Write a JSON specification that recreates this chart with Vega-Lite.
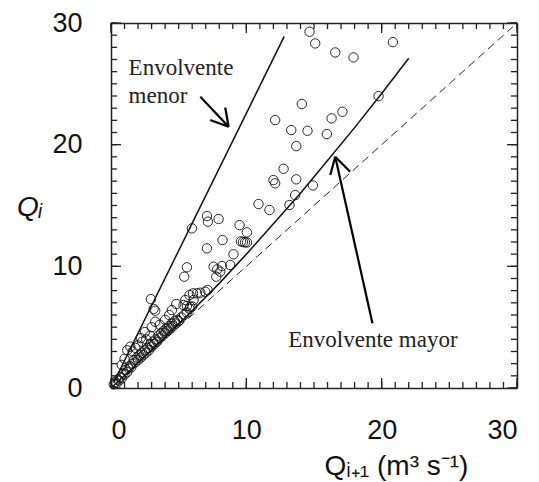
{
  "$schema": "https://vega.github.io/schema/vega-lite/v6.json",
  "width": 406,
  "height": 365,
  "autosize": {"type": "none"},
  "padding": {"left": 111, "top": 23, "right": 22, "bottom": 94},
  "background": "white",
  "config": {
    "view": {"stroke": null},
    "axis": {"grid": false}
  },
  "datasets": {
    "tkmin": [
      {"v": 0}, {"v": 1}, {"v": 2}, {"v": 3}, {"v": 4}, {"v": 5}, {"v": 6}, {"v": 7}, {"v": 8}, {"v": 9},
      {"v": 10}, {"v": 11}, {"v": 12}, {"v": 13}, {"v": 14}, {"v": 15}, {"v": 16}, {"v": 17}, {"v": 18}, {"v": 19},
      {"v": 20}, {"v": 21}, {"v": 22}, {"v": 23}, {"v": 24}, {"v": 25}, {"v": 26}, {"v": 27}, {"v": 28}, {"v": 29}, {"v": 30}
    ],
    "tkmaj": [{"v": 0}, {"v": 10}, {"v": 20}, {"v": 30}],
    "pts": [
      {"x": 14.67, "y": 29.28}, {"x": 15.09, "y": 28.32}, {"x": 16.57, "y": 27.58}, {"x": 17.92, "y": 27.17},
      {"x": 20.83, "y": 28.43}, {"x": 19.77, "y": 23.99}, {"x": 14.1, "y": 23.34}, {"x": 12.13, "y": 22.02},
      {"x": 17.1, "y": 22.7}, {"x": 16.3, "y": 22.16}, {"x": 13.32, "y": 21.2}, {"x": 14.52, "y": 21.14},
      {"x": 15.95, "y": 20.87}, {"x": 13.69, "y": 19.88}, {"x": 12.75, "y": 18.02}, {"x": 12.0, "y": 17.09},
      {"x": 12.13, "y": 16.82}, {"x": 13.69, "y": 17.15}, {"x": 14.92, "y": 16.65}, {"x": 13.61, "y": 15.86},
      {"x": 13.19, "y": 15.04}, {"x": 10.9, "y": 15.12}, {"x": 11.71, "y": 14.63}, {"x": 7.09, "y": 14.13},
      {"x": 7.16, "y": 13.67}, {"x": 7.95, "y": 13.89}, {"x": 5.98, "y": 13.12}, {"x": 9.5, "y": 13.39},
      {"x": 10.04, "y": 12.79}, {"x": 8.24, "y": 12.16}, {"x": 9.6, "y": 12.05}, {"x": 9.75, "y": 12.0},
      {"x": 9.9, "y": 11.97}, {"x": 10.05, "y": 11.97}, {"x": 7.09, "y": 11.48}, {"x": 9.05, "y": 10.99},
      {"x": 8.81, "y": 10.11}, {"x": 7.58, "y": 9.97}, {"x": 7.85, "y": 9.75}, {"x": 8.2, "y": 10.02},
      {"x": 8.07, "y": 9.56}, {"x": 7.78, "y": 9.15}, {"x": 5.61, "y": 9.92}, {"x": 5.41, "y": 9.15},
      {"x": 7.14, "y": 8.05}, {"x": 6.96, "y": 7.91}, {"x": 6.6, "y": 7.83}, {"x": 6.35, "y": 7.78},
      {"x": 6.06, "y": 7.78}, {"x": 5.8, "y": 7.64}, {"x": 2.95, "y": 7.3}, {"x": 4.82, "y": 6.9},
      {"x": 5.49, "y": 7.23}, {"x": 5.36, "y": 6.82}, {"x": 5.61, "y": 6.74}, {"x": 5.86, "y": 6.68},
      {"x": 6.1, "y": 7.23}, {"x": 3.15, "y": 6.5}, {"x": 3.27, "y": 6.35},
      {"x": 1.43, "y": 3.4}, {"x": 1.2, "y": 3.1}, {"x": 1.6, "y": 3.0}, {"x": 1.0, "y": 2.4},
      {"x": 0.8, "y": 1.9}, {"x": 2.0, "y": 3.5}, {"x": 2.3, "y": 3.8}, {"x": 2.6, "y": 4.0},
      {"x": 2.9, "y": 4.3}, {"x": 3.27, "y": 5.45}, {"x": 3.0, "y": 5.0}, {"x": 3.6, "y": 5.2},
      {"x": 4.0, "y": 5.6}, {"x": 4.3, "y": 6.0}, {"x": 4.5, "y": 6.4}, {"x": 2.5, "y": 4.6},
      {"x": 2.2, "y": 4.1}, {"x": 1.8, "y": 3.3},
      {"x": 0.2, "y": 0.3}, {"x": 0.3, "y": 0.5}, {"x": 0.4, "y": 0.4}, {"x": 0.5, "y": 0.7},
      {"x": 0.6, "y": 0.6}, {"x": 0.7, "y": 0.9}, {"x": 0.8, "y": 0.8}, {"x": 0.9, "y": 1.2},
      {"x": 1.0, "y": 1.1}, {"x": 1.1, "y": 1.5}, {"x": 1.2, "y": 1.3}, {"x": 1.3, "y": 1.6},
      {"x": 1.4, "y": 1.8}, {"x": 1.5, "y": 1.7}, {"x": 1.6, "y": 2.0}, {"x": 1.7, "y": 2.3},
      {"x": 1.8, "y": 2.1}, {"x": 1.9, "y": 2.5}, {"x": 2.0, "y": 2.3}, {"x": 2.1, "y": 2.7},
      {"x": 2.2, "y": 2.5}, {"x": 2.3, "y": 2.9}, {"x": 2.4, "y": 2.7}, {"x": 2.5, "y": 3.1},
      {"x": 2.6, "y": 2.9}, {"x": 2.7, "y": 3.3}, {"x": 2.8, "y": 3.1}, {"x": 2.9, "y": 3.6},
      {"x": 3.0, "y": 3.4}, {"x": 3.1, "y": 3.8}, {"x": 3.2, "y": 3.6}, {"x": 3.3, "y": 4.0},
      {"x": 3.4, "y": 3.8}, {"x": 3.5, "y": 4.3}, {"x": 3.6, "y": 4.1}, {"x": 3.7, "y": 4.5},
      {"x": 3.8, "y": 4.3}, {"x": 3.9, "y": 4.7}, {"x": 4.0, "y": 4.5}, {"x": 4.1, "y": 4.9},
      {"x": 4.2, "y": 4.7}, {"x": 4.3, "y": 5.1}, {"x": 4.4, "y": 4.9}, {"x": 4.5, "y": 5.3},
      {"x": 4.6, "y": 5.1}, {"x": 4.7, "y": 5.5}, {"x": 4.8, "y": 5.3}, {"x": 4.9, "y": 5.6},
      {"x": 5.0, "y": 5.5}, {"x": 5.2, "y": 5.8}, {"x": 5.4, "y": 6.0}, {"x": 5.6, "y": 6.2},
      {"x": 5.8, "y": 6.5}, {"x": 6.0, "y": 6.7}
    ],
    "env": [
      {"s": "menor", "x": 0.2, "y": 0.45}, {"s": "menor", "x": 12.8, "y": 28.9},
      {"s": "mayor", "x": 0, "y": 0}, {"s": "mayor", "x": 2, "y": 2.05}, {"s": "mayor", "x": 4, "y": 4.15},
      {"s": "mayor", "x": 6, "y": 6.35}, {"s": "mayor", "x": 8, "y": 8.6}, {"s": "mayor", "x": 10, "y": 11.0},
      {"s": "mayor", "x": 12, "y": 13.5}, {"s": "mayor", "x": 14, "y": 16.0}, {"s": "mayor", "x": 16, "y": 18.7},
      {"s": "mayor", "x": 18, "y": 21.4}, {"s": "mayor", "x": 20, "y": 24.2}, {"s": "mayor", "x": 22, "y": 27.1}
    ],
    "diag": [{"x": 0, "y": 0}, {"x": 29.7, "y": 29.7}],
    "arrows": [
      {"x": 6.6, "y": 23.94, "x2": 8.69, "y2": 21.47},
      {"x": 7.33, "y": 22.02, "x2": 8.69, "y2": 21.47},
      {"x": 8.44, "y": 23.06, "x2": 8.69, "y2": 21.47},
      {"x": 19.32, "y": 5.32, "x2": 16.57, "y2": 19.0},
      {"x": 16.2, "y": 17.5, "x2": 16.57, "y2": 19.0},
      {"x": 17.67, "y": 17.77, "x2": 16.57, "y2": 19.0}
    ],
    "labels": [
      {"x": 1.3, "y": 25.7, "t": "Envolvente"},
      {"x": 1.3, "y": 23.44, "t": "menor"},
      {"x": 13.1, "y": 3.39, "t": "Envolvente mayor"}
    ]
  },
  "resolve": {"axis": {"x": "independent", "y": "independent"}},
  "layer": [
    {
      "data": {"name": "pts"},
      "mark": {"type": "point", "shape": "circle", "filled": false, "stroke": "#111", "strokeWidth": 1, "size": 88, "opacity": 0.9},
      "encoding": {
        "x": {"field": "x", "type": "quantitative", "scale": {"domain": [0, 30], "nice": false, "zero": false},
          "axis": {"orient": "bottom", "values": [0, 10, 20, 30], "ticks": false, "domainColor": "#222", "domainWidth": 1.5, "labelFont": "Liberation Sans", "labelFontSize": 27, "labelColor": "#111", "labelPadding": 29, "title": "Qᵢ₊₁  (m³ s⁻¹)", "titleFont": "Liberation Sans", "titleFontSize": 28, "titleFontWeight": "normal", "titleColor": "#111", "titleX": 285, "titleY": 86, "titleAlign": "center", "titleBaseline": "alphabetic"}},
        "y": {"field": "y", "type": "quantitative", "scale": {"domain": [0, 30], "nice": false, "zero": false},
          "axis": {"orient": "left", "values": [0, 10, 20, 30], "ticks": false, "domainColor": "#222", "domainWidth": 1.5, "labelFont": "Liberation Sans", "labelFontSize": 27, "labelColor": "#111", "labelPadding": 29, "title": "Qᵢ", "titleFont": "Liberation Sans", "titleFontSize": 28, "titleFontWeight": "normal", "titleColor": "#111", "titleAngle": 0, "titleFontStyle": "italic", "titleX": -82, "titleY": 184, "titleAlign": "center", "titleBaseline": "middle"}}
      }
    },
    {
      "data": {"name": "env"},
      "mark": {"type": "line", "stroke": "#111", "strokeWidth": 1.5},
      "encoding": {
        "detail": {"field": "s"},
        "x": {"field": "x", "type": "quantitative", "scale": {"domain": [0, 30], "nice": false, "zero": false}, "axis": null},
        "y": {"field": "y", "type": "quantitative", "scale": {"domain": [0, 30], "nice": false, "zero": false}, "axis": null}
      }
    },
    {
      "data": {"name": "diag"},
      "mark": {"type": "line", "stroke": "#222", "strokeWidth": 1, "strokeDash": [8, 5]},
      "encoding": {
        "x": {"field": "x", "type": "quantitative", "scale": {"domain": [0, 30], "nice": false, "zero": false},
          "axis": {"orient": "top", "values": [0, 10, 20, 30], "labels": false, "ticks": false, "domain": true, "domainColor": "#222", "domainWidth": 1.5, "title": null}},
        "y": {"field": "y", "type": "quantitative", "scale": {"domain": [0, 30], "nice": false, "zero": false},
          "axis": {"orient": "right", "values": [0, 10, 20, 30], "labels": false, "ticks": false, "domain": true, "domainColor": "#222", "domainWidth": 1.5, "title": null}}
      }
    },
    {
      "data": {"name": "arrows"},
      "mark": {"type": "rule", "stroke": "#000", "strokeWidth": 2.2},
      "encoding": {
        "x": {"field": "x", "type": "quantitative", "scale": {"domain": [0, 30], "nice": false, "zero": false}, "axis": null},
        "y": {"field": "y", "type": "quantitative", "scale": {"domain": [0, 30], "nice": false, "zero": false}, "axis": null},
        "x2": {"field": "x2"},
        "y2": {"field": "y2"}
      }
    },
    {
      "data": {"name": "labels"},
      "mark": {"type": "text", "font": "Liberation Serif", "fontSize": 23, "color": "#222", "align": "left", "baseline": "alphabetic"},
      "encoding": {
        "text": {"field": "t"},
        "x": {"field": "x", "type": "quantitative", "scale": {"domain": [0, 30], "nice": false, "zero": false}, "axis": null},
        "y": {"field": "y", "type": "quantitative", "scale": {"domain": [0, 30], "nice": false, "zero": false}, "axis": null}
      }
    },
    {
      "data": {"name": "tkmin"},
      "mark": {"type": "rule", "stroke": "#222", "strokeWidth": 1.3},
      "encoding": {
        "x": {"field": "v", "type": "quantitative", "scale": {"domain": [0, 30], "nice": false, "zero": false}, "axis": null},
        "y": {"datum": 0, "type": "quantitative", "scale": {"domain": [0, 30], "nice": false, "zero": false}, "axis": null},
        "y2": {"datum": 0.5}
      }
    },
    {
      "data": {"name": "tkmin"},
      "mark": {"type": "rule", "stroke": "#222", "strokeWidth": 1.3},
      "encoding": {
        "x": {"field": "v", "type": "quantitative", "scale": {"domain": [0, 30], "nice": false, "zero": false}, "axis": null},
        "y": {"datum": 30, "type": "quantitative", "scale": {"domain": [0, 30], "nice": false, "zero": false}, "axis": null},
        "y2": {"datum": 29.5}
      }
    },
    {
      "data": {"name": "tkmin"},
      "mark": {"type": "rule", "stroke": "#222", "strokeWidth": 1.3},
      "encoding": {
        "y": {"field": "v", "type": "quantitative", "scale": {"domain": [0, 30], "nice": false, "zero": false}, "axis": null},
        "x": {"datum": 0, "type": "quantitative", "scale": {"domain": [0, 30], "nice": false, "zero": false}, "axis": null},
        "x2": {"datum": 0.45}
      }
    },
    {
      "data": {"name": "tkmin"},
      "mark": {"type": "rule", "stroke": "#222", "strokeWidth": 1.3},
      "encoding": {
        "y": {"field": "v", "type": "quantitative", "scale": {"domain": [0, 30], "nice": false, "zero": false}, "axis": null},
        "x": {"datum": 30, "type": "quantitative", "scale": {"domain": [0, 30], "nice": false, "zero": false}, "axis": null},
        "x2": {"datum": 29.55}
      }
    },
    {
      "data": {"name": "tkmaj"},
      "mark": {"type": "rule", "stroke": "#222", "strokeWidth": 1.3},
      "encoding": {
        "x": {"field": "v", "type": "quantitative", "scale": {"domain": [0, 30], "nice": false, "zero": false}, "axis": null},
        "y": {"datum": 0, "type": "quantitative", "scale": {"domain": [0, 30], "nice": false, "zero": false}, "axis": null},
        "y2": {"datum": 0.82}
      }
    },
    {
      "data": {"name": "tkmaj"},
      "mark": {"type": "rule", "stroke": "#222", "strokeWidth": 1.3},
      "encoding": {
        "x": {"field": "v", "type": "quantitative", "scale": {"domain": [0, 30], "nice": false, "zero": false}, "axis": null},
        "y": {"datum": 30, "type": "quantitative", "scale": {"domain": [0, 30], "nice": false, "zero": false}, "axis": null},
        "y2": {"datum": 29.18}
      }
    },
    {
      "data": {"name": "tkmaj"},
      "mark": {"type": "rule", "stroke": "#222", "strokeWidth": 1.3},
      "encoding": {
        "y": {"field": "v", "type": "quantitative", "scale": {"domain": [0, 30], "nice": false, "zero": false}, "axis": null},
        "x": {"datum": 0, "type": "quantitative", "scale": {"domain": [0, 30], "nice": false, "zero": false}, "axis": null},
        "x2": {"datum": 0.74}
      }
    },
    {
      "data": {"name": "tkmaj"},
      "mark": {"type": "rule", "stroke": "#222", "strokeWidth": 1.3},
      "encoding": {
        "y": {"field": "v", "type": "quantitative", "scale": {"domain": [0, 30], "nice": false, "zero": false}, "axis": null},
        "x": {"datum": 30, "type": "quantitative", "scale": {"domain": [0, 30], "nice": false, "zero": false}, "axis": null},
        "x2": {"datum": 29.26}
      }
    }
  ]
}
